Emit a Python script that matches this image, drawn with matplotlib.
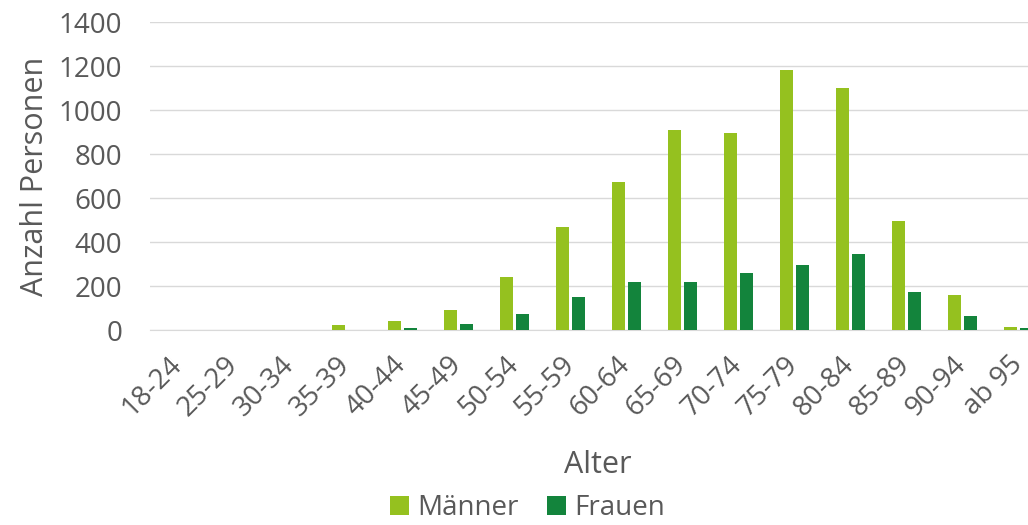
import numpy as np
import matplotlib.pyplot as plt

plt.rcParams['font.family'] = ['Open Sans', 'DejaVu Sans']

altersgruppen = ["18-24", "25-29", "30-34", "35-39", "40-44", "45-49", "50-54", "55-59",
                 "60-64", "65-69", "70-74", "75-79", "80-84", "85-89", "90-94", "ab 95"]
maenner = [3, 0, 3, 22, 40, 90, 240, 470, 675, 910, 895, 1180, 1100, 495, 160, 15]
frauen = [0, 0, 0, 0, 8, 28, 75, 150, 220, 220, 258, 298, 345, 175, 65, 10]

grau = "#595959"
fig = plt.figure(figsize=(10.28, 5.25), dpi=100)
# plot area runs a little past the right edge, as in the original
ax = fig.add_axes([0.146, 0.371, 0.8716, 0.587])

x = np.arange(len(altersgruppen))
w = 0.23
ax.bar(x - 0.143, maenner, w, color="#95C11F", label="Männer", zorder=3)
ax.bar(x + 0.143, frauen, w, color="#13843C", label="Frauen", zorder=3)

ax.set_xlim(-0.5, len(altersgruppen) - 0.5)
ax.set_ylim(0, 1400)
ax.set_yticks(np.arange(0, 1401, 200))
ax.grid(axis="y", color="#D9D9D9", linewidth=1, zorder=0)
ax.set_xticks(x)
ax.set_xticklabels(altersgruppen, rotation=45, ha="right", va="center",
                   rotation_mode="anchor")
ax.tick_params(axis="both", length=0, labelsize=20, labelcolor=grau)
ax.tick_params(axis="x", pad=22)
ax.tick_params(axis="y", pad=20)
for s in ["top", "right", "left"]:
    ax.spines[s].set_visible(False)
ax.spines["bottom"].set_color("#D9D9D9")

ax.set_ylabel("Anzahl Personen", fontsize=22, color=grau, labelpad=6)
ax.set_xlabel("Alter", fontsize=22, color=grau, labelpad=20)

fig.legend(loc="center", bbox_to_anchor=(0.513, 0.032), ncol=2, frameon=False,
           fontsize=20, labelcolor=grau, handlelength=0.7, handleheight=0.7,
           columnspacing=1.0, handletextpad=0.3)

fig.savefig("out.png", dpi=100)
